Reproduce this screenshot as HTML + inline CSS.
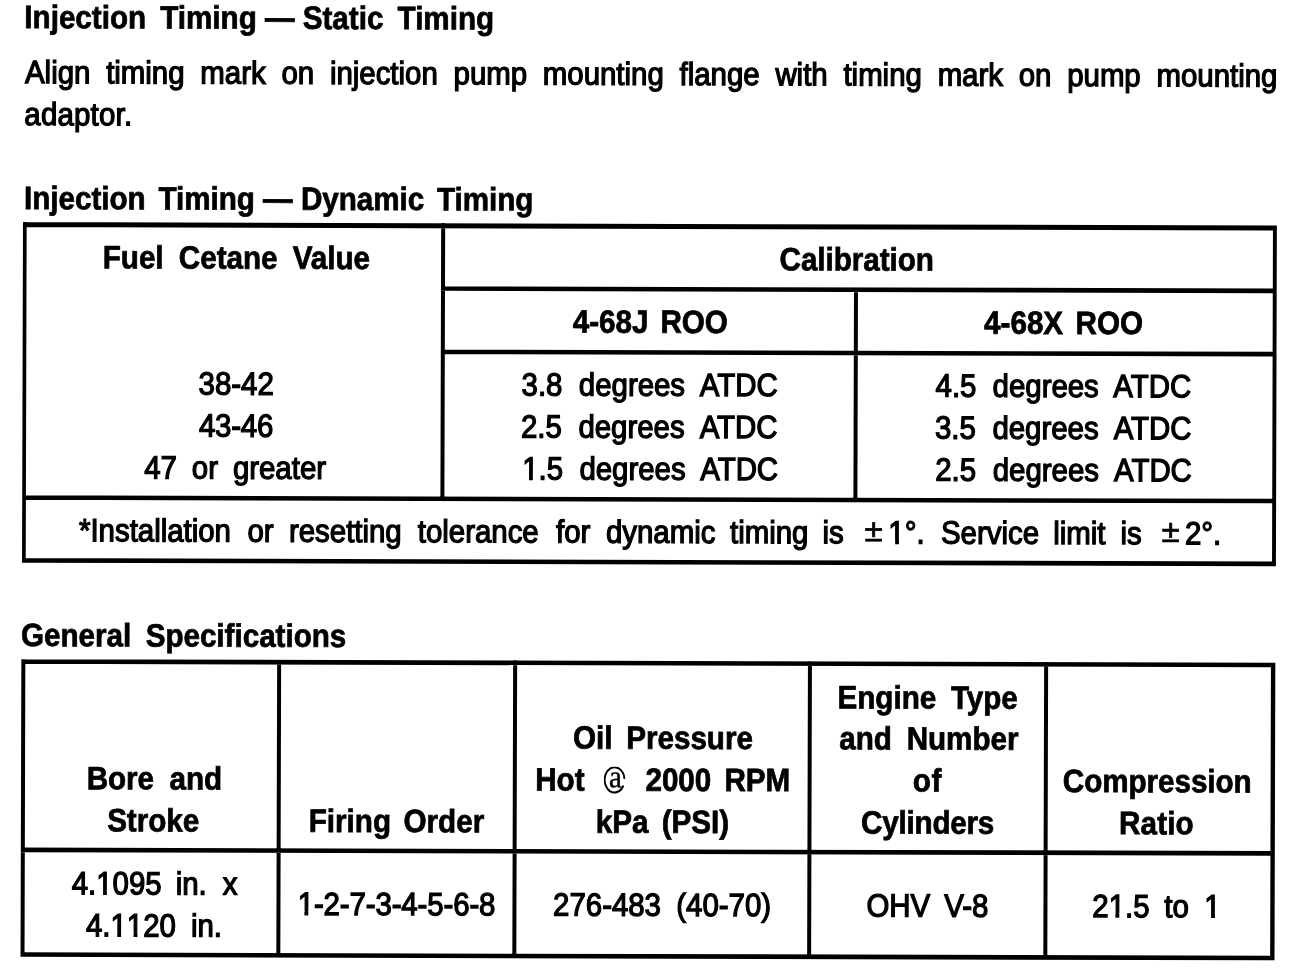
<!DOCTYPE html><html><head><meta charset="utf-8"><title>Injection Timing</title><style>
html,body{margin:0;padding:0;background:#fff;}
body{width:1312px;height:976px;overflow:hidden;position:relative;}
#pg{position:absolute;left:0;top:0;width:1312px;height:976px;transform:rotate(0.1604deg);transform-origin:0 0;filter:grayscale(1);}
.t{position:absolute;white-space:pre;font-family:"Liberation Sans",sans-serif;color:#000;-webkit-text-stroke:1.2px #000;}
.b{font-weight:bold;-webkit-text-stroke:0.7px #000;}
.t span.w{position:absolute;top:0;}
.l{position:absolute;background:#000;}
</style></head><body><div id="pg">
<svg width="1312" height="976" viewBox="0 0 1312 976" style="position:absolute;left:0;top:0"><path d="M23.70 222.00H1277.50V227.00H23.70ZM23.60 222.00H27.30V562.60H23.60ZM1273.60 222.00H1277.50V562.60H1273.60ZM441.80 222.00H445.80V499.80H441.80ZM854.80 285.00H858.80V499.80H854.80ZM441.80 285.00H1277.50V289.60H441.80ZM441.80 348.30H1277.50V352.90H441.80ZM23.70 495.30H1277.50V499.80H23.70ZM23.70 558.00H1277.50V562.60H23.70ZM23.20 659.10H1277.20V663.70H23.20ZM23.20 659.10H27.20V956.80H23.20ZM1272.80 659.10H1277.20V956.80H1272.80ZM279.00 659.10H283.00V956.80H279.00ZM515.00 659.10H519.00V956.80H515.00ZM809.80 659.10H813.80V956.80H809.80ZM1046.00 659.10H1050.00V956.80H1046.00ZM23.20 847.50H1277.20V852.10H23.20ZM23.20 952.20H1277.20V956.80H23.20Z" fill="#000"/></svg>
<div id="h1" class="t b" style="left:24.46px;top:3.15px;font-size:29.6px;line-height:29.6px;word-spacing:6.00px;transform:scaleY(1.09);transform-origin:0 25.30px;">Injection Timing<span style="word-spacing:0"> — </span>Static Timing</div>
<div id="p1" class="t" style="left:25.26px;top:58.20px;font-size:29.4px;line-height:29.4px;word-spacing:7.62px;transform:scaleY(1.09);transform-origin:0 25.20px;">Align timing mark on injection pump mounting flange with timing mark on pump mounting</div>
<div id="p2" class="t" style="left:24.70px;top:100.00px;font-size:29.4px;line-height:29.4px;letter-spacing:0.214px;transform:scaleY(1.09);transform-origin:0 25.20px;">adaptor.</div>
<div id="h2" class="t b" style="left:24.58px;top:184.15px;font-size:29.6px;line-height:29.6px;word-spacing:4.50px;transform:scaleY(1.09);transform-origin:0 25.30px;">Injection Timing<span style="word-spacing:0"> — </span>Dynamic Timing</div>
<div id="a1" class="t b" style="left:103.50px;top:243.40px;font-size:29.6px;line-height:29.6px;word-spacing:7.00px;transform:scaleY(1.09);transform-origin:0 25.30px;">Fuel Cetane Value</div>
<div id="a2" class="t b" style="left:780.30px;top:243.40px;font-size:29.6px;line-height:29.6px;letter-spacing:-0.020px;transform:scaleY(1.09);transform-origin:0 25.30px;">Calibration</div>
<div id="a3" class="t b" style="left:573.66px;top:306.10px;font-size:29.6px;line-height:29.6px;word-spacing:3.75px;transform:scaleY(1.09);transform-origin:0 25.30px;">4-68J ROO</div>
<div id="a4" class="t b" style="left:985.06px;top:306.10px;font-size:29.6px;line-height:29.6px;word-spacing:4.30px;transform:scaleY(1.09);transform-origin:0 25.30px;">4-68X ROO</div>
<div id="b1" class="t" style="left:199.70px;top:369.00px;font-size:29.4px;line-height:29.4px;transform:scaleY(1.09);transform-origin:0 25.20px;">38-42</div>
<div id="b2" class="t" style="left:200.14px;top:411.30px;font-size:29.4px;line-height:29.4px;letter-spacing:-0.187px;transform:scaleY(1.09);transform-origin:0 25.20px;">43-46</div>
<div id="b3" class="t" style="left:145.58px;top:453.20px;font-size:29.4px;line-height:29.4px;word-spacing:6.75px;transform:scaleY(1.09);transform-origin:0 25.20px;">47 or greater</div>
<div id="c1" class="t" style="left:522.70px;top:369.00px;font-size:29.4px;line-height:29.4px;word-spacing:8.25px;transform:scaleY(1.09);transform-origin:0 25.20px;">3.8 degrees ATDC</div>
<div id="c2" class="t" style="left:522.14px;top:411.30px;font-size:29.4px;line-height:29.4px;word-spacing:8.50px;transform:scaleY(1.09);transform-origin:0 25.20px;">2.5 degrees ATDC</div>
<div id="c3" class="t" style="left:523.58px;top:453.20px;font-size:29.4px;line-height:29.4px;word-spacing:8.12px;transform:scaleY(1.09);transform-origin:0 25.20px;"><span style="display:inline-block;clip-path:polygon(-8px -30px,30px -30px,30px 21.40px,10.59px 21.40px,10.59px 29.20px,6.79px 29.20px,6.79px 21.40px,-8px 21.40px)">1</span>.5 degrees ATDC</div>
<div id="d1" class="t" style="left:936.70px;top:369.00px;font-size:29.4px;line-height:29.4px;word-spacing:8.00px;transform:scaleY(1.09);transform-origin:0 25.20px;">4.5 degrees ATDC</div>
<div id="d2" class="t" style="left:936.14px;top:411.30px;font-size:29.4px;line-height:29.4px;word-spacing:8.50px;transform:scaleY(1.09);transform-origin:0 25.20px;">3.5 degrees ATDC</div>
<div id="d3" class="t" style="left:936.58px;top:453.20px;font-size:29.4px;line-height:29.4px;word-spacing:8.50px;transform:scaleY(1.09);transform-origin:0 25.20px;">2.5 degrees ATDC</div>
<div id="f1" class="t" style="left:0;top:516.05px;font-size:29.4px;line-height:29.4px;transform:scaleY(1.09);transform-origin:0 25.20px;"><span id="f1_0" class="w" style="left:80.50px;">*Installation</span><span id="f1_1" class="w" style="left:248.90px;">or</span><span id="f1_2" class="w" style="left:290.50px;">resetting</span><span id="f1_3" class="w" style="left:419.30px;">tolerance</span><span id="f1_4" class="w" style="left:557.50px;">for</span><span id="f1_5" class="w" style="left:607.50px;">dynamic</span><span id="f1_6" class="w" style="left:731.50px;">timing</span><span id="f1_7" class="w" style="left:824.10px;">is</span><span id="f1_8" class="w" style="left:865.50px;transform:translateY(-2.0px) scale(1.13,1.0);transform-origin:0 25.20px;-webkit-text-stroke:0.6px #000;">±</span><span id="f1_9" class="w" style="left:889.90px;"><span style="display:inline-block;clip-path:polygon(-8px -30px,30px -30px,30px 21.40px,10.59px 21.40px,10.59px 29.20px,6.79px 29.20px,6.79px 21.40px,-8px 21.40px)">1</span>°.</span><span id="f1_10" class="w" style="left:942.50px;">Service</span><span id="f1_11" class="w" style="left:1054.70px;">limit</span><span id="f1_12" class="w" style="left:1122.10px;">is</span><span id="f1_13" class="w" style="left:1162.70px;transform:translateY(-2.0px) scale(1.13,1.0);transform-origin:0 25.20px;-webkit-text-stroke:0.6px #000;">±</span><span id="f1_14" class="w" style="left:1186.50px;">2°.</span></div>
<div id="g0" class="t b" style="left:22.82px;top:620.80px;font-size:29.6px;line-height:29.6px;word-spacing:6.20px;transform:scaleY(1.09);transform-origin:0 25.30px;">General Specifications</div>
<div id="e1" class="t b" style="left:0;top:764.00px;font-size:29.6px;line-height:29.6px;transform:scaleY(1.09);transform-origin:0 25.30px;"><span id="e1_0" class="w" style="left:88.86px;">Bore</span><span id="e1_1" class="w" style="left:171.66px;">and</span></div>
<div id="e2" class="t b" style="left:109.46px;top:805.80px;font-size:29.6px;line-height:29.6px;transform:scaleY(1.09);transform-origin:0 25.30px;">Stroke</div>
<div id="e3" class="t b" style="left:0;top:805.80px;font-size:29.6px;line-height:29.6px;transform:scaleY(1.09);transform-origin:0 25.30px;"><span id="e3_0" class="w" style="left:311.10px;">Firing</span><span id="e3_1" class="w" style="left:405.90px;">Order</span></div>
<div id="e4" class="t b" style="left:0;top:721.80px;font-size:29.6px;line-height:29.6px;transform:scaleY(1.09);transform-origin:0 25.30px;"><span id="e4_0" class="w" style="left:575.14px;">Oil</span><span id="e4_1" class="w" style="left:628.34px;">Pressure</span></div>
<div id="e5" class="t b" style="left:0;top:764.00px;font-size:29.6px;line-height:29.6px;transform:scaleY(1.09);transform-origin:0 25.30px;"><span id="e5_0" class="w" style="left:537.46px;">Hot</span><span id="e5_1" class="w" style="left:606.46px;top:2.70px;-webkit-text-stroke:0;"><svg width="22" height="26" viewBox="0 0 22 26" style="display:block"><path d="M19.6 17.2 A9.9 11.6 0 1 1 20.6 11.2" fill="none" stroke="#000" stroke-width="1.9"/><text x="11.6" y="18.8" text-anchor="middle" font-family="Liberation Serif" font-size="29" font-weight="normal" stroke="#000" stroke-width="0.4">a</text></svg></span><span id="e5_2" class="w" style="left:647.66px;">2000</span><span id="e5_3" class="w" style="left:726.66px;">RPM</span></div>
<div id="e6" class="t b" style="left:0;top:805.80px;font-size:29.6px;line-height:29.6px;transform:scaleY(1.09);transform-origin:0 25.30px;"><span id="e6_0" class="w" style="left:598.10px;">kPa</span><span id="e6_1" class="w" style="left:664.10px;">(PSI)</span></div>
<div id="e7" class="t b" style="left:0;top:680.80px;font-size:29.6px;line-height:29.6px;transform:scaleY(1.09);transform-origin:0 25.30px;"><span id="e7_0" class="w" style="left:839.50px;">Engine</span><span id="e7_1" class="w" style="left:952.90px;">Type</span></div>
<div id="e8" class="t b" style="left:0;top:721.80px;font-size:29.6px;line-height:29.6px;transform:scaleY(1.09);transform-origin:0 25.30px;"><span id="e8_0" class="w" style="left:841.34px;">and</span><span id="e8_1" class="w" style="left:908.74px;">Number</span></div>
<div id="e9" class="t b" style="left:915.02px;top:764.00px;font-size:29.6px;line-height:29.6px;letter-spacing:0.500px;transform:scaleY(1.09);transform-origin:0 25.30px;">of</div>
<div id="e10" class="t b" style="left:863.46px;top:805.80px;font-size:29.6px;line-height:29.6px;letter-spacing:-0.219px;transform:scaleY(1.09);transform-origin:0 25.30px;">Cylinders</div>
<div id="e11" class="t b" style="left:1065.02px;top:764.00px;font-size:29.6px;line-height:29.6px;letter-spacing:-0.025px;transform:scaleY(1.09);transform-origin:0 25.30px;">Compression</div>
<div id="e12" class="t b" style="left:1121.46px;top:805.80px;font-size:29.6px;line-height:29.6px;letter-spacing:0.125px;transform:scaleY(1.09);transform-origin:0 25.30px;">Ratio</div>
<div id="v1" class="t" style="left:0;top:868.70px;font-size:29.4px;line-height:29.4px;transform:scaleY(1.09);transform-origin:0 25.20px;"><span id="v1_0" class="w" style="left:74.26px;">4.<span style="display:inline-block;clip-path:polygon(-8px -30px,30px -30px,30px 21.40px,10.59px 21.40px,10.59px 29.20px,6.79px 29.20px,6.79px 21.40px,-8px 21.40px)">1</span>095</span><span id="v1_1" class="w" style="left:178.26px;">in.</span><span id="v1_2" class="w" style="left:225.26px;">x</span></div>
<div id="v2" class="t" style="left:0;top:910.80px;font-size:29.4px;line-height:29.4px;transform:scaleY(1.09);transform-origin:0 25.20px;"><span id="v2_0" class="w" style="left:88.58px;">4.<span style="display:inline-block;clip-path:polygon(-8px -30px,30px -30px,30px 21.40px,10.59px 21.40px,10.59px 29.20px,6.79px 29.20px,6.79px 21.40px,-8px 21.40px)">1</span><span style="display:inline-block;clip-path:polygon(-8px -30px,30px -30px,30px 21.40px,10.59px 21.40px,10.59px 29.20px,6.79px 29.20px,6.79px 21.40px,-8px 21.40px)">1</span>20</span><span id="v2_1" class="w" style="left:193.58px;">in.</span></div>
<div id="v3" class="t" style="left:300.22px;top:889.30px;font-size:29.4px;line-height:29.4px;letter-spacing:-0.107px;transform:scaleY(1.09);transform-origin:0 25.20px;"><span style="display:inline-block;clip-path:polygon(-8px -30px,30px -30px,30px 21.40px,10.59px 21.40px,10.59px 29.20px,6.79px 29.20px,6.79px 21.40px,-8px 21.40px)">1</span>-2-7-3-4-5-6-8</div>
<div id="v4" class="t" style="left:0;top:889.30px;font-size:29.4px;line-height:29.4px;transform:scaleY(1.09);transform-origin:0 25.20px;"><span id="v4_0" class="w" style="left:555.66px;">276-483</span><span id="v4_1" class="w" style="left:678.86px;">(40-70)</span></div>
<div id="v5" class="t" style="left:869.02px;top:889.30px;font-size:29.4px;line-height:29.4px;word-spacing:6.00px;transform:scaleY(1.09);transform-origin:0 25.20px;">OHV V-8</div>
<div id="v6" class="t" style="left:0;top:889.30px;font-size:29.4px;line-height:29.4px;transform:scaleY(1.09);transform-origin:0 25.20px;"><span id="v6_0" class="w" style="left:1094.86px;">2<span style="display:inline-block;clip-path:polygon(-8px -30px,30px -30px,30px 21.40px,10.59px 21.40px,10.59px 29.20px,6.79px 29.20px,6.79px 21.40px,-8px 21.40px)">1</span>.5</span><span id="v6_1" class="w" style="left:1166.86px;">to</span><span id="v6_2" class="w" style="left:1206.86px;"><span style="display:inline-block;clip-path:polygon(-8px -30px,30px -30px,30px 21.40px,10.59px 21.40px,10.59px 29.20px,6.79px 29.20px,6.79px 21.40px,-8px 21.40px)">1</span></span></div>
</div></body></html>
